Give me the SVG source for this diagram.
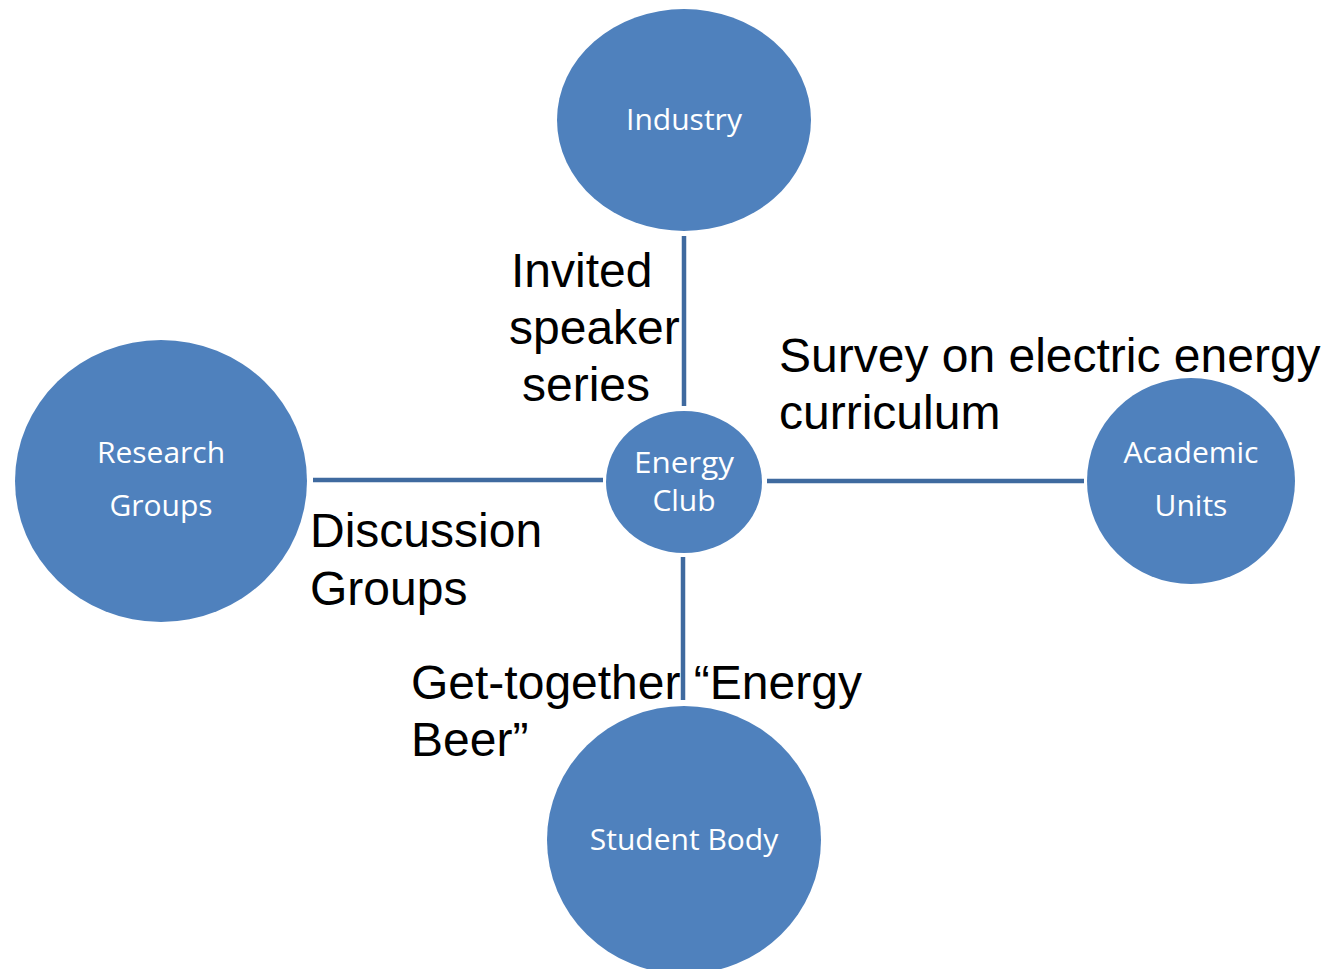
<svg xmlns="http://www.w3.org/2000/svg" width="1324" height="969" viewBox="0 0 1324 969">
<style>
.node{fill:#4f81bd;}
.nl{fill:#ffffff;font-family:"Open Sans","Noto Sans",sans-serif;font-size:30px;text-anchor:middle;}
.lbl{fill:#000000;font-family:"Liberation Sans",Arial,sans-serif;font-size:48px;}
.edge{stroke:#3f6a9f;stroke-width:4.5;fill:none;}
</style>
<rect width="1324" height="969" fill="#ffffff"/>
<g id="connectors">
<line class="edge" x1="684" y1="236" x2="684" y2="406"/>
<line class="edge" x1="313" y1="480" x2="603" y2="480"/>
<line class="edge" x1="767" y1="481" x2="1084" y2="481"/>
<line class="edge" x1="683" y1="557" x2="683" y2="700"/>
</g>
<g id="industry">
<ellipse class="node" cx="684" cy="120" rx="127" ry="111"/>
<text class="nl" x="684" y="130">Industry</text>
</g>
<g id="research-groups">
<ellipse class="node" cx="161" cy="481" rx="146" ry="141"/>
<text class="nl" x="161" y="463">Research</text>
<text class="nl" x="161" y="516">Groups</text>
</g>
<g id="energy-club">
<ellipse class="node" cx="684" cy="482" rx="78" ry="71"/>
<text class="nl" x="684" y="473" textLength="100" lengthAdjust="spacingAndGlyphs">Energy</text>
<text class="nl" x="684" y="511">Club</text>
</g>
<g id="academic-units">
<ellipse class="node" cx="1191" cy="481" rx="104" ry="103"/>
<text class="nl" x="1191" y="463">Academic</text>
<text class="nl" x="1191" y="516">Units</text>
</g>
<g id="student-body">
<ellipse class="node" cx="684" cy="840" rx="137" ry="134"/>
<text class="nl" x="684" y="850">Student Body</text>
</g>
<g id="labels">
<text class="lbl" x="511" y="287">Invited</text>
<text class="lbl" x="509" y="344">speaker</text>
<text class="lbl" x="522" y="401">series</text>
<text class="lbl" x="779" y="372">Survey on electric energy</text>
<text class="lbl" x="779" y="429">curriculum</text>
<text class="lbl" x="310" y="547">Discussion</text>
<text class="lbl" x="310" y="605">Groups</text>
<text class="lbl" x="411" y="699">Get-together “Energy</text>
<text class="lbl" x="411" y="756">Beer”</text>
</g>
</svg>
